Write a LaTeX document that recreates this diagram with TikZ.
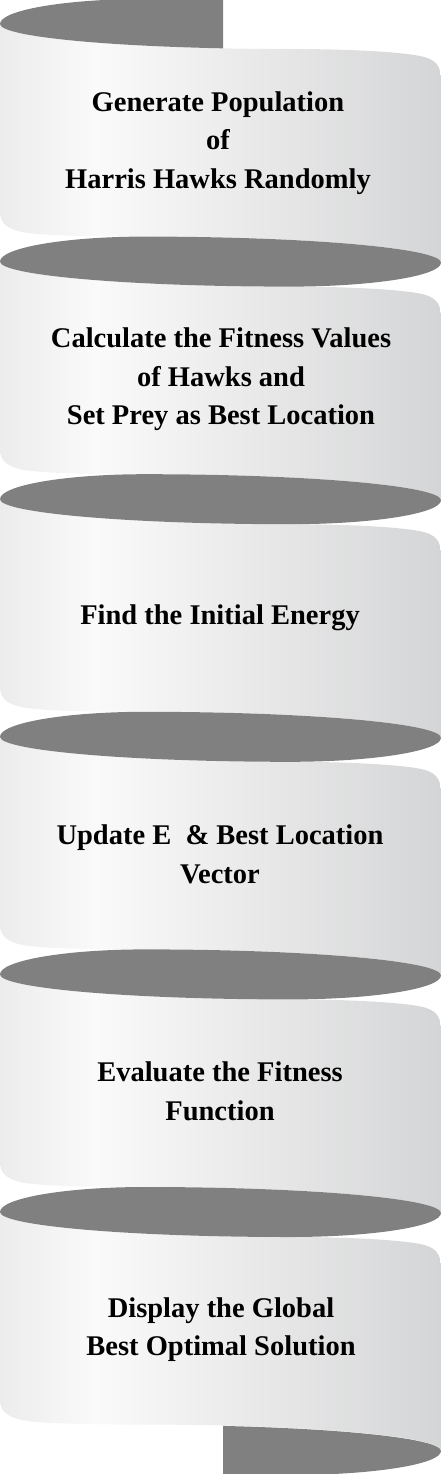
\documentclass[tikz,border=0pt]{standalone}
\usepackage{fontspec}
\setmainfont{Liberation Serif}
\definecolor{ribbongray}{RGB}{128,128,128}
\definecolor{pl}{RGB}{236,236,236}
\definecolor{pw}{RGB}{250,250,250}
\definecolor{pm}{RGB}{232,232,233}
\definecolor{pr}{RGB}{212,213,214}
\pgfdeclarehorizontalshading{panelshade}{100bp}{color(0bp)=(pl); color(25bp)=(pl); color(36bp)=(pw); color(55bp)=(pm); color(75bp)=(pr); color(100bp)=(pr)}
\begin{document}
\begin{tikzpicture}[x=1pt,y=-1pt,
  panel/.style={shading=panelshade, draw=none},
  backside/.style={fill=ribbongray, draw=none},
  steptext/.style={font=\bfseries\fontsize{28.5}{38.5}\selectfont, align=center, text=black, inner sep=0pt}]
\useasboundingbox (0,0) rectangle (441,1474);
% front panels
\foreach \k in {1,...,6}{
  \pgfmathsetmacro\ca{24+237.6*(\k-1)}
  \pgfmathsetmacro\cb{24+237.6*\k}
  \path[panel] (0,\ca) .. controls (0,{\ca+13.8}) and (130,{\ca+25}) .. (290,{\ca+25})
    .. controls (350,{\ca+25}) and (400,{\ca+28}) .. (420,{\ca+32})
    .. controls (436,{\ca+35}) and (441,{\ca+42}) .. (441,{\ca+56})
    -- (441,{\cb+1})
    .. controls (441,{\cb-13.4}) and (308,{\cb-25}) .. (145,{\cb-25})
    .. controls (90,{\cb-25}) and (45,{\cb-26}) .. (25,{\cb-29})
    .. controls (8,{\cb-32}) and (0,{\cb-38}) .. (0,{\cb-50})
    -- cycle;
}
% back side of the ribbon (dark ellipses)
\foreach \k in {1,...,5}{
  \pgfmathsetmacro\cc{24+237.6*\k}
  \fill[backside] (0,\cc) .. controls (0,{\cc-13.8}) and (65,{\cc-25}) .. (145,{\cc-25})
    .. controls (308,{\cc-25}) and (441,{\cc-13.4}) .. (441,{\cc+1})
    .. controls (441,{\cc+14.3}) and (373,{\cc+25}) .. (290,{\cc+25})
    .. controls (130,{\cc+25}) and (0,{\cc+13.8}) .. (0,\cc) -- cycle;
}
\begin{scope}
  \clip (0,0) rectangle (223,70);
  \fill[backside] (0,24) .. controls (0,10.2) and (65,-1) .. (145,-1)
    .. controls (308,-1) and (441,10.6) .. (441,25)
    .. controls (441,38.3) and (373,49) .. (290,49)
    .. controls (130,49) and (0,37.8) .. (0,24) -- cycle;
\end{scope}
\begin{scope}
  \clip (223,1400) rectangle (441,1474);
  \fill[backside] (0,1450) .. controls (0,1436.2) and (65,1425) .. (145,1425)
    .. controls (308,1425) and (441,1436.6) .. (441,1451)
    .. controls (441,1464.3) and (373,1475) .. (290,1475)
    .. controls (130,1475) and (0,1463.8) .. (0,1450) -- cycle;
\end{scope}
% texts
\node[steptext] (n1) at (218,142) {\strut Generate Population\\\strut of\\\strut Harris Hawks Randomly};
\node[steptext] (n2) at (221,378.5) {\strut Calculate the Fitness Values\\\strut of Hawks and\\\strut Set Prey as Best Location};
\node[steptext] (n3) at (220,617) {\strut Find the Initial Energy};
\node[steptext] (n4) at (220,856.5) {\strut Update E~ \& Best Location\\\strut Vector};
\node[steptext] (n5) at (220,1093.5) {\strut Evaluate the Fitness\\\strut Function};
\node[steptext] (n6) at (221,1329) {\strut Display the Global\\\strut Best Optimal Solution};
\end{tikzpicture}
\end{document}
